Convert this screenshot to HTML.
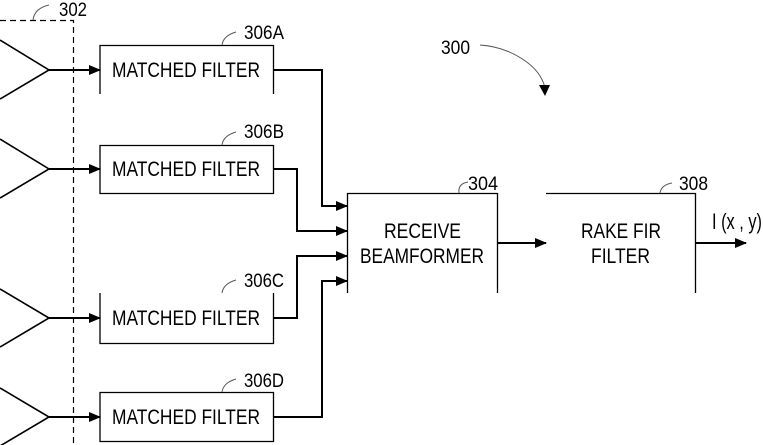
<!DOCTYPE html>
<html><head><style>body{margin:0;background:#fff}svg{display:block}text{font-family:"Liberation Sans",sans-serif;fill:#000}</style></head><body>
<svg width="763" height="445" viewBox="0 0 763 445" xmlns="http://www.w3.org/2000/svg">
<defs><marker id="ah" markerWidth="12" markerHeight="10" refX="11" refY="5" orient="auto" markerUnits="userSpaceOnUse"><path d="M0,0 L12,5 L0,10 z" fill="#000"/></marker></defs>
<path d="M0,20.5 H73.5 V445" fill="none" stroke="#000" stroke-width="1.2" stroke-dasharray="6,4"/>
<path d="M33,20 C34,12 40,7 49,5" fill="none" stroke="#555" stroke-width="1"/>
<text x="59" y="16" font-size="19" textLength="28" lengthAdjust="spacingAndGlyphs">302</text>
<g fill="none" stroke="#000" stroke-width="1.6">
<path d="M0,40 L49,70 L0,99"/><path d="M0,139 L49,169 L0,198"/><path d="M0,289 L49,318 L0,347"/><path d="M0,388 L49,417 L0,446"/>
</g>
<g stroke="#000" stroke-width="2" fill="none" marker-end="url(#ah)">
<path d="M49,70 H100"/><path d="M49,169 H100"/><path d="M49,318 H100"/><path d="M49,417 H100"/>
<path d="M273,70 H322 V206 H347"/><path d="M273,169 H297 V231 H347"/><path d="M273,318 H297 V256 H347"/><path d="M273,417 H322 V281 H347"/>
<path d="M497,243 H546"/><path d="M695,243 H746"/>
</g>
<g fill="none" stroke="#000" stroke-width="1.3">
<path d="M100,94 V45.5 H273.5 V94"/>
<path d="M100,145.5 H273.5 V193.5 H100 Z"/>
<path d="M100,293 V343.5 H273.5 V293"/>
<path d="M100,392.5 H273.5 V441.5 H100 Z"/>
<path d="M347.5,293 V193.5 H497.5 V293"/>
<path d="M546,193.5 H695.5 V293"/>
</g>
<g fill="none" stroke="#555" stroke-width="1">
<path d="M222,45 C223,38 229,34 236,32"/><path d="M222,145 C223,138 229,134 236,132"/>
<path d="M222,293 C223,286 229,282 236,280"/><path d="M222,392 C223,385 229,381 236,379"/>
<path d="M459,193 C458,186 462,183 468,182"/><path d="M660,193 C661,187 666,184 672,183"/>
<path d="M480,45 C510,47 540,65 545,88"/>
</g>
<path d="M539,85 L550,85 L545,96 z" fill="#000"/>
<g font-size="19">
<text x="244" y="39" textLength="40" lengthAdjust="spacingAndGlyphs">306A</text>
<text x="244" y="138" textLength="40" lengthAdjust="spacingAndGlyphs">306B</text>
<text x="244" y="287" textLength="40" lengthAdjust="spacingAndGlyphs">306C</text>
<text x="244" y="387" textLength="40" lengthAdjust="spacingAndGlyphs">306D</text>
<text x="468" y="190" textLength="30" lengthAdjust="spacingAndGlyphs">304</text>
<text x="679" y="190" textLength="29" lengthAdjust="spacingAndGlyphs">308</text>
<text x="441" y="54" textLength="29" lengthAdjust="spacingAndGlyphs">300</text>
<text x="712" y="229" font-size="22" textLength="50" lengthAdjust="spacingAndGlyphs">I (x , y)</text>
</g>
<g font-size="21">
<text x="112" y="77" textLength="148" lengthAdjust="spacingAndGlyphs">MATCHED FILTER</text>
<text x="112" y="176" textLength="148" lengthAdjust="spacingAndGlyphs">MATCHED FILTER</text>
<text x="112" y="325" textLength="148" lengthAdjust="spacingAndGlyphs">MATCHED FILTER</text>
<text x="112" y="424" textLength="148" lengthAdjust="spacingAndGlyphs">MATCHED FILTER</text>
<text x="384" y="238" textLength="77" lengthAdjust="spacingAndGlyphs">RECEIVE</text>
<text x="360" y="263" textLength="124" lengthAdjust="spacingAndGlyphs">BEAMFORMER</text>
<text x="581" y="238" textLength="80" lengthAdjust="spacingAndGlyphs">RAKE FIR</text>
<text x="591" y="263" textLength="59" lengthAdjust="spacingAndGlyphs">FILTER</text>
</g>
</svg>
</body></html>
